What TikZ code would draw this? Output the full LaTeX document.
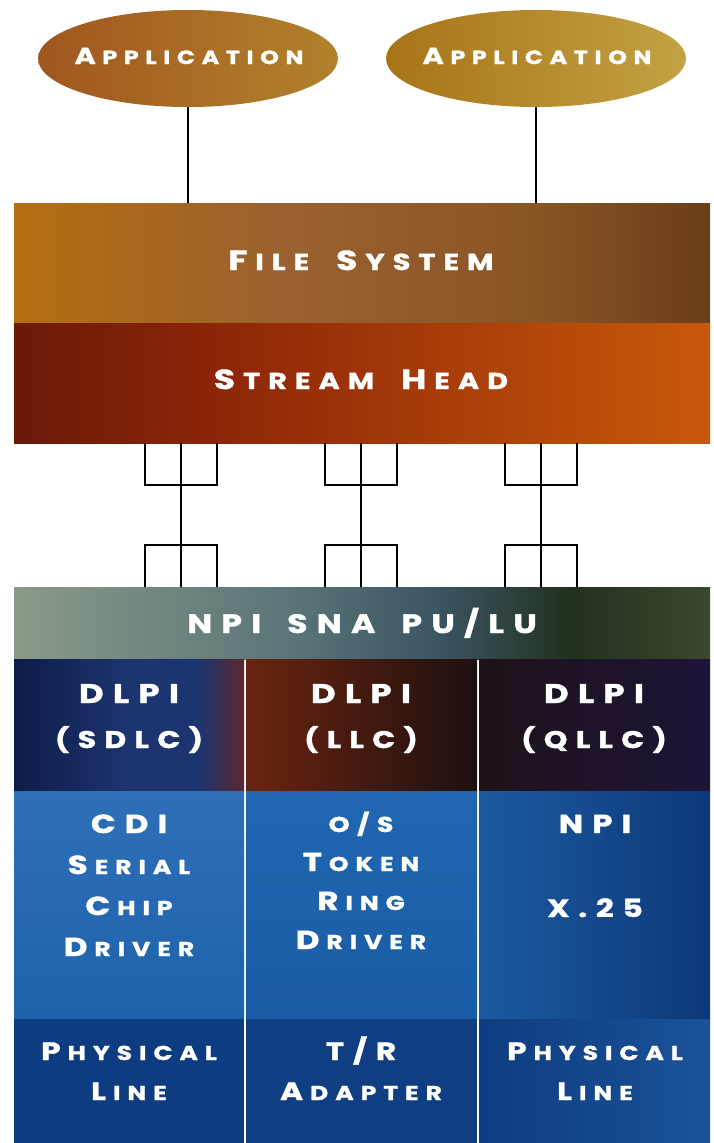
\documentclass[tikz,border=0pt]{standalone}
\usepackage{fontspec}
\newfontfamily\cg[LetterSpace=35, FakeStretch=1.25, FakeBold=1.5, WordSpace=1.6]{Poppins}
\usetikzlibrary{shapes.geometric}
\definecolor{apA}{HTML}{A0561E}\definecolor{apB}{HTML}{B2822C}
\definecolor{apC}{HTML}{A87418}\definecolor{apD}{HTML}{C2A244}
\definecolor{fsA}{HTML}{B46E10}\definecolor{fsB}{HTML}{9A6030}\definecolor{fsC}{HTML}{8A5525}\definecolor{fsD}{HTML}{6A3E1A}
\definecolor{shA}{HTML}{6A1808}\definecolor{shB}{HTML}{8E2608}\definecolor{shC}{HTML}{C8580A}
\definecolor{npA}{HTML}{8A9A88}\definecolor{npB}{HTML}{5A7478}\definecolor{npC}{HTML}{3C5664}\definecolor{npD}{HTML}{22301E}\definecolor{npE}{HTML}{3A4830}
\definecolor{d1A}{HTML}{0E1C48}\definecolor{d1B}{HTML}{1C3470}\definecolor{d1C}{HTML}{5A2830}
\definecolor{d2A}{HTML}{6A2410}\definecolor{d2B}{HTML}{1E1010}
\definecolor{d3A}{HTML}{1E1218}\definecolor{d3B}{HTML}{1E1438}
\definecolor{b1A}{HTML}{2E70B8}\definecolor{b1B}{HTML}{1E62AC}
\definecolor{b2A}{HTML}{2066B0}\definecolor{b2B}{HTML}{1A5CA6}
\definecolor{b3A}{HTML}{1C5AA0}\definecolor{b3B}{HTML}{0C3878}
\definecolor{pA}{HTML}{0E3C80}\definecolor{pB}{HTML}{103E82}\definecolor{pC}{HTML}{1A5298}
\pgfdeclarehorizontalshading{fsh}{100bp}{color(0bp)=(fsA); color(25bp)=(fsA); color(45bp)=(fsB); color(62bp)=(fsC); color(75bp)=(fsD); color(100bp)=(fsD)}
\pgfdeclarehorizontalshading{shh}{100bp}{color(0bp)=(shA); color(25bp)=(shA); color(40bp)=(shB); color(75bp)=(shC); color(100bp)=(shC)}
\pgfdeclarehorizontalshading{nph}{100bp}{color(0bp)=(npA); color(25bp)=(npA); color(45bp)=(npB); color(55bp)=(npC); color(65bp)=(npD); color(75bp)=(npE); color(100bp)=(npE)}
\pgfdeclarehorizontalshading{d1h}{100bp}{color(0bp)=(d1A); color(25bp)=(d1A); color(50bp)=(d1B); color(65bp)=(d1B); color(75bp)=(d1C); color(100bp)=(d1C)}
\newcommand\Bg[2][26]{{\fontsize{#1}{#1}\selectfont #2}}
\newcommand\Sm[2][20]{{\fontsize{#1}{#1}\selectfont #2}}
% small-caps word: big size, small size, first letter, rest
\newcommand\SC[4]{\Bg[#1]{#3}\kern0.35\dimexpr#2pt\relax\Sm[#2]{#4}}
\tikzset{
  band/.style={rectangle, inner sep=0pt, outer sep=0pt, minimum width=696pt},
  cell/.style={rectangle, inner sep=0pt, outer sep=0pt, minimum width=231pt},
  app/.style={ellipse, inner sep=0pt, outer sep=0pt, minimum width=300pt, minimum height=97pt},
  lab/.style={text=white, inner sep=0pt, align=center, anchor=base, font=\cg\bfseries\fontsize{20}{40}\selectfont},
  wire/.style={draw=black, line width=1.4pt},
}
\begin{document}
\begin{tikzpicture}[x=1pt, y=-1pt]
\useasboundingbox (0,0) rectangle (713,1143);
% applications
\node[app, left color=apA, right color=apB] (app1) at (188,58.5) {};
\node[app, left color=apC, right color=apD] (app2) at (536,58.5) {};
\node[lab] (tapp1) at (189,64) {\SC{23}{19}{A}{PPLICATION}};
\node[lab] (tapp2) at (537,64) {\SC{23}{19}{A}{PPLICATION}};
% bands
\node[band, minimum height=120pt, shading=fsh] (fs) at (362,263) {};
\node[band, minimum height=120pt, shading=shh] (sh) at (362,383) {};
\node[band, minimum height=72pt, shading=nph] (npi) at (362,623) {};
\node[lab] (tfs) at (361,270) {\SC{27.5}{23}{F}{ILE}\hspace{27pt}\SC{27.5}{23}{S}{YSTEM}};
\node[lab] (tsh) at (361,389) {\SC{27.5}{23}{S}{TREAM}\hspace{27pt}\SC{27.5}{23}{H}{EAD}};
\node[lab] (tnpi) at (362,633) {\Bg[26.5]{NPI SNA PU/LU}};
% cells
\node[cell, minimum width=230pt, minimum height=132pt, shading=d1h] (d1) at (129,725) {};
\node[cell, minimum height=132pt, left color=d2A, right color=d2B] (d2) at (361.5,725) {};
\node[cell, minimum height=132pt, left color=d3A, right color=d3B] (d3) at (594.5,725) {};
\node[cell, minimum width=230pt, minimum height=228pt, top color=b1A, bottom color=b1B] (b1) at (129,905) {};
\node[cell, minimum height=228pt, top color=b2A, bottom color=b2B] (b2) at (361.5,905) {};
\node[cell, minimum height=228pt, left color=b3A, right color=b3B] (b3) at (594.5,905) {};
\node[cell, minimum width=230pt, minimum height=124pt, fill=pA] (p1) at (129,1081) {};
\node[cell, minimum height=124pt, fill=pB] (p2) at (361.5,1081) {};
\node[cell, minimum height=124pt, left color=pA, right color=pC] (p3) at (594.5,1081) {};
% cell texts (base = last line)
\node[lab, font=\cg\bfseries\fontsize{20}{45}\selectfont] (td1) at (129,748) {\Bg[27]{DLPI}\\\Bg[24]{(SDLC)}};
\node[lab, font=\cg\bfseries\fontsize{20}{45}\selectfont] (td2) at (361,748) {\Bg[27]{DLPI}\\\Bg[24]{(LLC)}};
\node[lab, font=\cg\bfseries\fontsize{20}{45}\selectfont] (td3) at (594,748) {\Bg[27]{DLPI}\\\Bg[24]{(QLLC)}};
\node[lab, font=\cg\bfseries\fontsize{20}{41}\selectfont] (tb1) at (129,956) {\Bg{CDI}\\\SC{26}{20}{S}{ERIAL}\\\SC{26}{20}{C}{HIP}\\\SC{26}{20}{D}{RIVER}};
\node[lab, font=\cg\bfseries\fontsize{20}{39}\selectfont] (tb2) at (361,949) {\Sm[21.5]{O/S}\\\SC{26}{20}{T}{OKEN}\\\SC{26}{20}{R}{ING}\\\SC{26}{20}{D}{RIVER}};
\node[lab, font=\cg\bfseries\fontsize{20}{42}\selectfont] (tb3) at (595,917) {\Bg{NPI}\\[42pt]\Bg[25]{X.25}};
\node[lab] (tp1) at (129,1100) {\SC{25}{20}{P}{HYSICAL}\\\SC{25}{20}{L}{INE}};
\node[lab] (tp2) at (361,1100) {\Bg[25]{T/R}\\\SC{25}{20}{A}{DAPTER}};
\node[lab] (tp3) at (595,1100) {\SC{25}{20}{P}{HYSICAL}\\\SC{25}{20}{L}{INE}};
% connectors
\draw[wire] (app1.south) -- (app1.south |- fs.north);
\draw[wire] (app2.south) -- (app2.south |- fs.north);
\foreach \c [count=\i] in {181,361,541} {
  \coordinate (tl\i) at (\c-36,485);
  \coordinate (tr\i) at (\c+36,485);
  \coordinate (bl\i) at (\c-36,545);
  \coordinate (br\i) at (\c+36,545);
  \coordinate (m\i) at (\c,515);
  \draw[wire] (sh.south -| m\i) -- (npi.north -| m\i);
  \draw[wire] (sh.south -| tl\i) -- (tl\i) -- (tr\i) -- (sh.south -| tr\i);
  \draw[wire] (npi.north -| bl\i) -- (bl\i) -- (br\i) -- (npi.north -| br\i);
}
\end{tikzpicture}
\end{document}
